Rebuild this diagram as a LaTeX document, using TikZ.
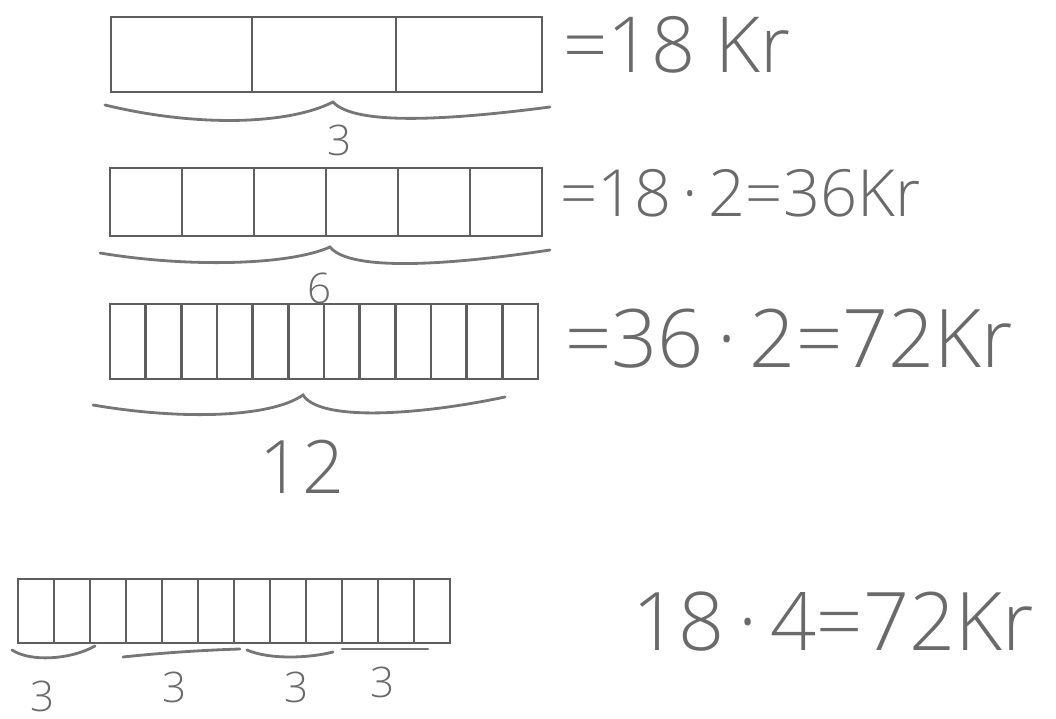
\documentclass[tikz,border=0pt]{standalone}
\usepackage{fontspec}
\setmainfont{Open Sans Light}
\usepackage{xcolor}
\definecolor{pencil}{HTML}{5E5E5E}
\definecolor{penciltext}{HTML}{6A6A6A}

\begin{document}
\begin{tikzpicture}[x=0.02cm, y=-0.02cm,
    bar/.style={draw=pencil, line width=1.5pt},
    curve/.style={draw=pencil!85, line width=1.6pt, line cap=round},
    result/.style={anchor=west, text=penciltext, inner sep=0pt},
    count/.style={text=penciltext, inner sep=0pt, font=\fontsize{24}{24}\selectfont}]
    \useasboundingbox (0,0) rectangle (1056,719);

    % Bar in 3 parts
    \draw[bar] (111,17) rectangle (542,92);
    \foreach \x in {252,396} {
        \draw[bar] (\x,17) -- (\x,92);
    }
    \draw[curve] (105,105) .. controls (200,128) and (290,124) .. (333,102)
        .. controls (355,126) and (450,120) .. (550,107);
    \node[count] (three) at (340,140) {3};
    \node[result, font=\fontsize{44}{44}\selectfont] (price1) at (563,45) {=18 Kr};

    % Bar in 6 parts
    \draw[bar] (110,168) rectangle (542,236);
    \foreach \x in {182,254,326,398,470} {
        \draw[bar] (\x,168) -- (\x,236);
    }
    \draw[curve] (100,253) .. controls (190,268) and (290,265) .. (330,247)
        .. controls (350,272) and (450,265) .. (550,250);
    \node[count] (six) at (320,288) {6};
    \node[result, font=\fontsize{37}{37}\selectfont] (price2) at (560,193) {=18{\,·\,}2=36Kr};

    % Bar in 12 parts
    \draw[bar] (110,304) rectangle (538,379);
    \foreach \i in {1,...,11} {
        \draw[bar] ({110+\i*428/12},304) -- ({110+\i*428/12},379);
    }
    \draw[curve] (93,405) .. controls (180,420) and (270,418) .. (303,395)
        .. controls (320,422) and (420,415) .. (505,397);
    \node[count, font=\fontsize{42}{42}\selectfont] (twelve) at (302,467) {12};
    \node[result, font=\fontsize{46}{46}\selectfont] (price3) at (565,339) {=36{\,·\,}2=72Kr};

    % Bar in 12 parts, grouped by 3
    \draw[bar] (18,579) rectangle (450,643);
    \foreach \i in {1,...,11} {
        \draw[bar] ({18+\i*36},579) -- ({18+\i*36},643);
    }
    \draw[curve] (12,650) .. controls (30,662) and (70,660) .. (95,646);
    \draw[curve] (123,657) .. controls (170,652) and (210,650) .. (240,649);
    \draw[curve] (247,650) .. controls (270,660) and (310,658) .. (333,652);
    \draw[curve] (342,649) -- (428,649);
    \foreach \x/\y/\name in {43/696/a, 175/687/b, 297/687/c, 383/682/d} {
        \node[count] (group\name) at (\x,\y) {3};
    }
    \node[result, font=\fontsize{46}{46}\selectfont] (price4) at (632,622) {18{\,·\,}4=72Kr};
\end{tikzpicture}
\end{document}
